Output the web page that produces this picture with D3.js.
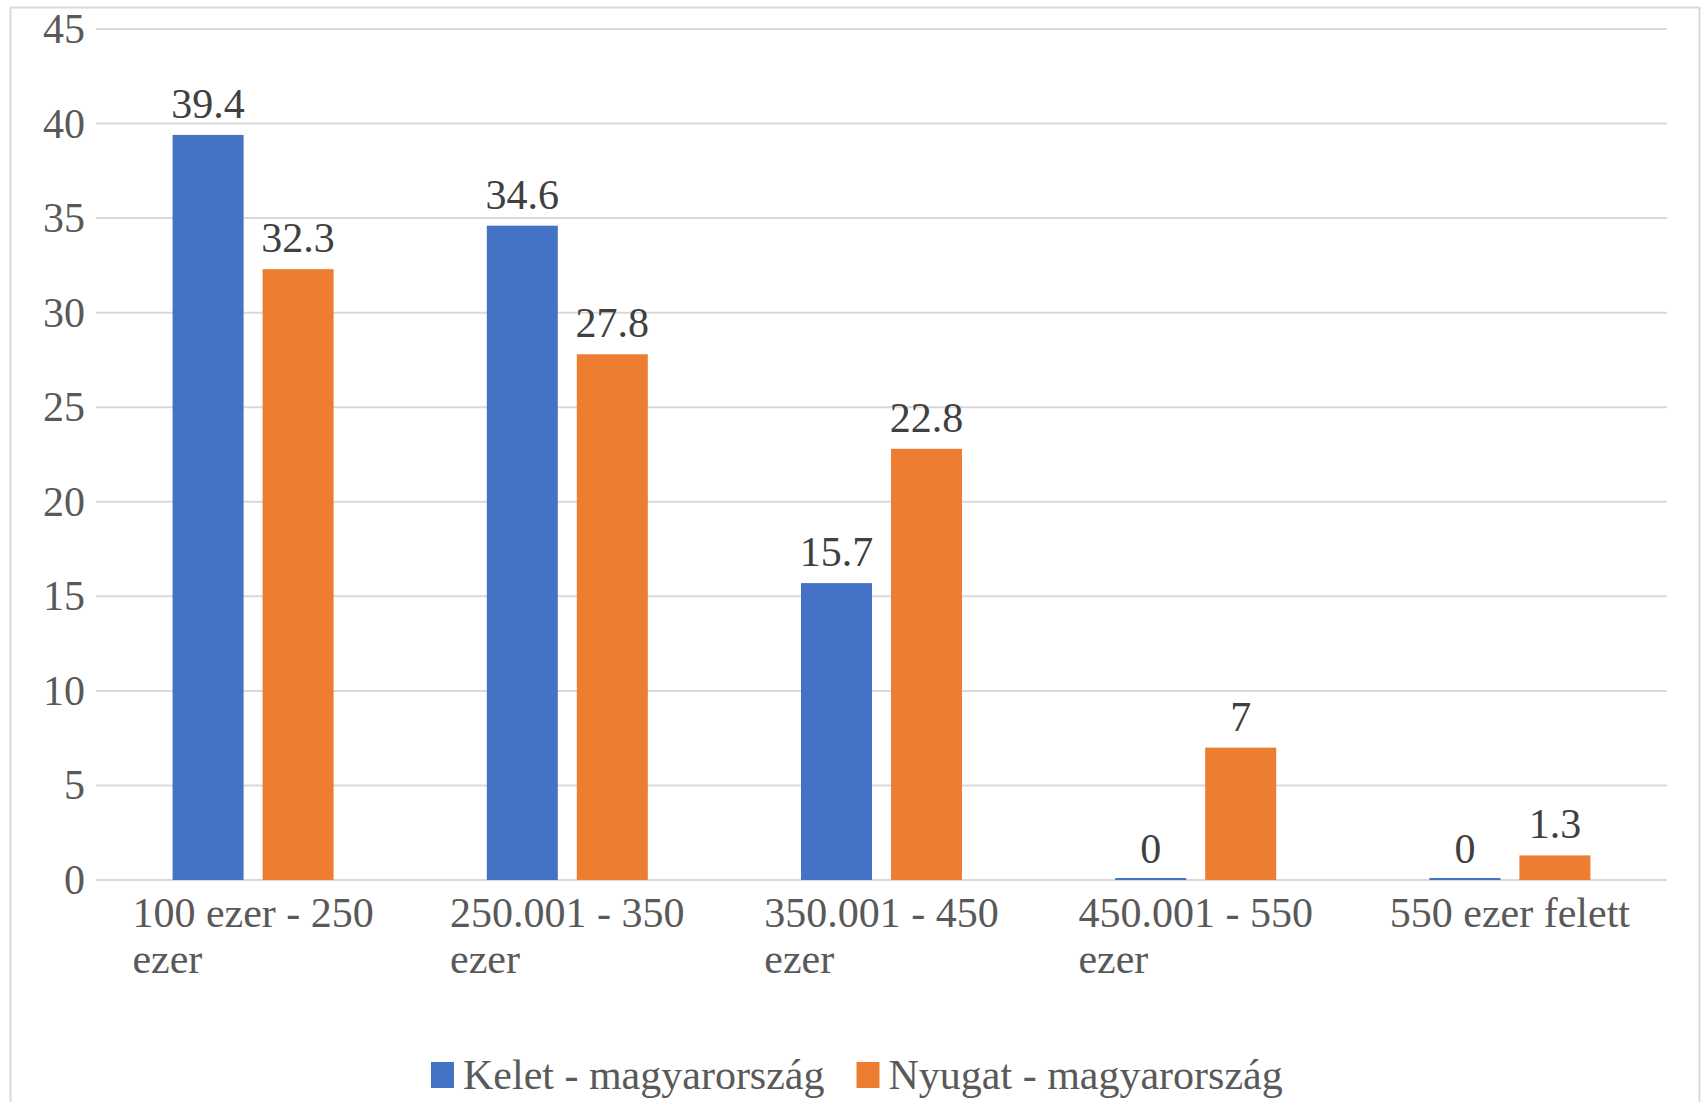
<!DOCTYPE html>
<html>
<head>
<meta charset="utf-8">
<script src="https://cdn.jsdelivr.net/npm/d3@7"></script>
<style>
  body { margin: 0; background: #fff; }
</style>
</head>
<body>
<svg id="canvas"></svg>
<script>
// data
var categories = [['100 ezer - 250', 'ezer'], ['250.001 - 350', 'ezer'], ['350.001 - 450', 'ezer'], ['450.001 - 550', 'ezer'], ['550 ezer felett']];
var seriesNames = ['Kelet - magyarország', 'Nyugat - magyarország'];
var kelet = [39.4, 34.6, 15.7, 0, 0];
var nyugat = [32.3, 27.8, 22.8, 7, 1.3];
var yTicks = [0, 5, 10, 15, 20, 25, 30, 35, 40, 45];
var colors = ['#4472C4', '#ED7D31'];

var width = 1702, height = 1102;
var plotLeft = 96, plotRight = 1667, plotTop = 29, plotBottom = 880;
var font = 'Liberation Serif';
var fontSize = 42;

var svg = d3.select('#canvas')
    .attr('width', width)
    .attr('height', height)
    .attr('font-family', font);

// outer chart frame
svg.append('rect')
    .attr('x', 10.5).attr('y', 7.5)
    .attr('width', 1689).attr('height', 1110)
    .attr('fill', 'none')
    .attr('stroke', '#d9d9d9')
    .attr('stroke-width', 2);

var catIdx = categories.map(function (d, i) { return i; });

var xScale = d3.scaleBand()
    .domain(catIdx)
    .range([plotLeft, plotRight]);

// inner scale for the two bars in each group (71px bars, 19px gap)
var groupWidth = 161;
var xInner = d3.scaleBand()
    .domain([0, 1])
    .range([0, groupWidth])
    .paddingInner(19 / 90);

var yScale = d3.scaleLinear()
    .domain([0, 45])
    .range([plotBottom, plotTop]);

// gridlines
svg.append('g')
    .selectAll('line')
    .data(yTicks)
    .enter()
    .append('line')
    .attr('x1', plotLeft)
    .attr('x2', plotRight)
    .attr('y1', function (d) { return yScale(d); })
    .attr('y2', function (d) { return yScale(d); })
    .attr('stroke', '#d9d9d9')
    .attr('stroke-width', 2);

// y axis labels
var yAxis = d3.axisLeft(yScale).tickValues(yTicks).tickSize(0).tickPadding(11);
var yG = svg.append('g')
    .attr('transform', 'translate(' + plotLeft + ',0)')
    .call(yAxis);
yG.attr('font-family', font).attr('font-size', fontSize);
yG.select('.domain').remove();
yG.selectAll('text')
    .attr('font-family', font)
    .attr('font-size', fontSize)
    .attr('fill', '#595959');

// bars
var rows = [];
catIdx.forEach(function (i) {
    rows.push({ cat: i, s: 0, v: kelet[i] });
    rows.push({ cat: i, s: 1, v: nyugat[i] });
});

function barX(d) {
    return xScale(d.cat) + (xScale.bandwidth() - groupWidth) / 2 + xInner(d.s);
}

svg.append('g')
    .selectAll('rect')
    .data(rows)
    .enter()
    .append('rect')
    .attr('x', barX)
    .attr('y', function (d) { return d.v === 0 ? plotBottom - 2 : yScale(d.v); })
    .attr('width', xInner.bandwidth())
    .attr('height', function (d) { return d.v === 0 ? 2 : plotBottom - yScale(d.v); })
    .attr('fill', function (d) { return colors[d.s]; });

// data labels
svg.append('g')
    .selectAll('text')
    .data(rows)
    .enter()
    .append('text')
    .attr('x', function (d) { return barX(d) + xInner.bandwidth() / 2; })
    .attr('y', function (d) { return yScale(d.v) - 17; })
    .attr('text-anchor', 'middle')
    .attr('font-family', font)
    .attr('font-size', fontSize)
    .attr('fill', '#404040')
    .text(function (d) { return d.v; });

// category labels, wrapped lines start where the first line starts
var catG = svg.append('g')
    .selectAll('g')
    .data(catIdx)
    .enter()
    .append('g');

catG.each(function (i) {
    var g = d3.select(this);
    var cx = xScale(i) + xScale.bandwidth() / 2;
    var first = g.append('text')
        .attr('x', cx)
        .attr('y', 927)
        .attr('text-anchor', 'middle')
        .attr('font-family', font)
        .attr('font-size', fontSize)
        .attr('fill', '#595959')
        .text(categories[i][0]);
    var w = first.node().getComputedTextLength();
    for (var k = 1; k < categories[i].length; k++) {
        g.append('text')
            .attr('x', cx - w / 2)
            .attr('y', 927 + 46 * k)
            .attr('font-family', font)
            .attr('font-size', fontSize)
            .attr('fill', '#595959')
            .text(categories[i][k]);
    }
});

// legend
var legend = svg.append('g');
var lx = 431;
seriesNames.forEach(function (name, i) {
    legend.append('rect')
        .attr('x', lx)
        .attr('y', 1062)
        .attr('width', 23)
        .attr('height', 26)
        .attr('fill', colors[i]);
    var t = legend.append('text')
        .attr('x', lx + 32)
        .attr('y', 1089)
        .attr('font-family', font)
        .attr('font-size', fontSize)
        .attr('fill', '#595959')
        .text(name);
    lx += 32 + t.node().getComputedTextLength() + 32;
});
</script>
</body>
</html>
